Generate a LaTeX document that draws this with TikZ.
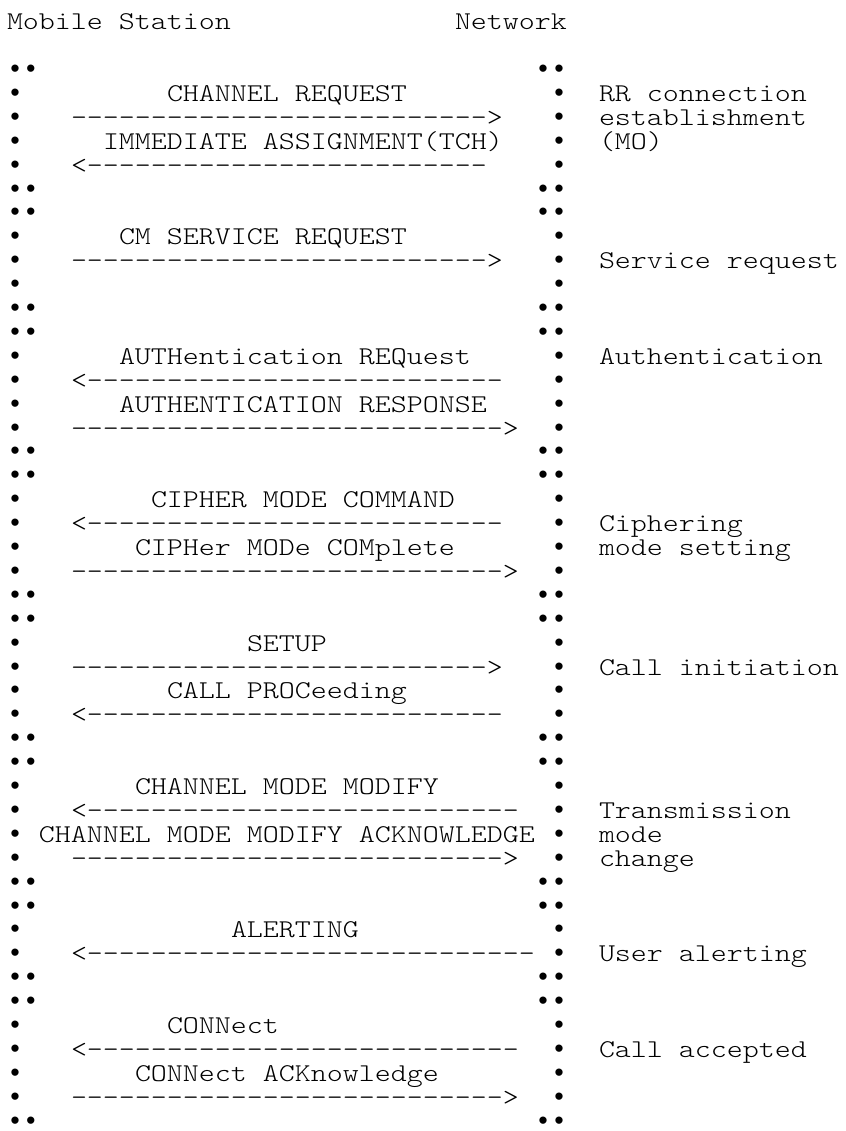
\documentclass[tikz,border=0pt]{standalone}
\usepackage{fontspec}
\newfontfamily\asciifont{lmmonolt10-regular.otf}[FakeStretch=1.19]
\newfontfamily\dotfont{Liberation Mono}
\usepackage{tikz}

\newcommand{\dashrun}[1]{\foreach \k in {1,...,#1}{-}}

\begin{document}
\begin{tikzpicture}[
  x=8pt, y=-11.95pt,
  txt/.style={anchor=base west,inner sep=0pt,outer sep=0pt,
    font=\asciifont\fontsize{12.8pt}{11.95pt}\selectfont},
  msg/.style={txt},
  note/.style={txt},
  dotmark/.style={anchor=base west,inner sep=0pt,outer sep=0pt,text depth=0pt,
    font=\dotfont\fontsize{13.33pt}{11.95pt}\selectfont}
]
  \fill[white] (-3.5pt,14.85pt) rectangle (419.5pt,-550.65pt);

  % header
  \node[txt] (ms) at (0,0) {Mobile Station};
  \node[txt] (nw) at (28,0) {Network};

  % dotted lifelines
  \foreach \r in {2,...,46} {
    \node[dotmark] (msl\r) at (0,\r) {•};
    \node[dotmark] (nwl\r) at (34,\r) {•};
  }
  \foreach \r in {2,7,8,12,13,18,19,24,25,30,31,36,37,40,41,46} {
    \node[dotmark] (msd\r) at (1,\r) {•};
    \node[dotmark] (nwd\r) at (33,\r) {•};
  }

  % RR connection
  \node[msg] (chreq) at (10,3) {CHANNEL REQUEST};
  \node[msg] (chreqa) at (4,4) {\dashrun{26}>};
  \node[msg] (immass) at (6,5) {IMMEDIATE ASSIGNMENT(TCH)};
  \node[msg] (immassa) at (4,6) {<\dashrun{25}};
  \node[note] (rr1) at (37,3) {RR connection};
  \node[note] (rr2) at (37,4) {establishment};
  \node[note] (rr3) at (37,5) {(MO)};

  % service request
  \node[msg] (cmreq) at (7,9) {CM SERVICE REQUEST};
  \node[msg] (cmreqa) at (4,10) {\dashrun{26}>};
  \node[note] (sr) at (37,10) {Service request};

  % authentication
  \node[msg] (authreq) at (7,14) {AUTHentication REQuest};
  \node[msg] (authreqa) at (4,15) {<\dashrun{26}};
  \node[msg] (authres) at (7,16) {AUTHENTICATION RESPONSE};
  \node[msg] (authresa) at (4,17) {\dashrun{27}>};
  \node[note] (auth) at (37,14) {Authentication};

  % ciphering
  \node[msg] (ciphcmd) at (9,20) {CIPHER MODE COMMAND};
  \node[msg] (ciphcmda) at (4,21) {<\dashrun{26}};
  \node[msg] (ciphcmp) at (8,22) {CIPHer MODe COMplete};
  \node[msg] (ciphcmpa) at (4,23) {\dashrun{27}>};
  \node[note] (ciph1) at (37,21) {Ciphering};
  \node[note] (ciph2) at (37,22) {mode setting};

  % call initiation
  \node[msg] (setup) at (15,26) {SETUP};
  \node[msg] (setupa) at (4,27) {\dashrun{26}>};
  \node[msg] (callproc) at (10,28) {CALL PROCeeding};
  \node[msg] (callproca) at (4,29) {<\dashrun{26}};
  \node[note] (callini) at (37,27) {Call initiation};

  % transmission mode change
  \node[msg] (chmod) at (8,32) {CHANNEL MODE MODIFY};
  \node[msg] (chmoda) at (4,33) {<\dashrun{27}};
  \node[msg] (chmodack) at (2,34) {CHANNEL MODE MODIFY ACKNOWLEDGE};
  \node[msg] (chmodacka) at (4,35) {\dashrun{27}>};
  \node[note] (tm1) at (37,33) {Transmission};
  \node[note] (tm2) at (37,34) {mode};
  \node[note] (tm3) at (37,35) {change};

  % alerting
  \node[msg] (alert) at (14,38) {ALERTING};
  \node[msg] (alerta) at (4,39) {<\dashrun{28}};
  \node[note] (useralert) at (37,39) {User alerting};

  % connect
  \node[msg] (conn) at (10,42) {CONNect};
  \node[msg] (conna) at (4,43) {<\dashrun{27}};
  \node[msg] (connack) at (8,44) {CONNect ACKnowledge};
  \node[msg] (connacka) at (4,45) {\dashrun{27}>};
  \node[note] (callacc) at (37,43) {Call accepted};
\end{tikzpicture}
\end{document}
